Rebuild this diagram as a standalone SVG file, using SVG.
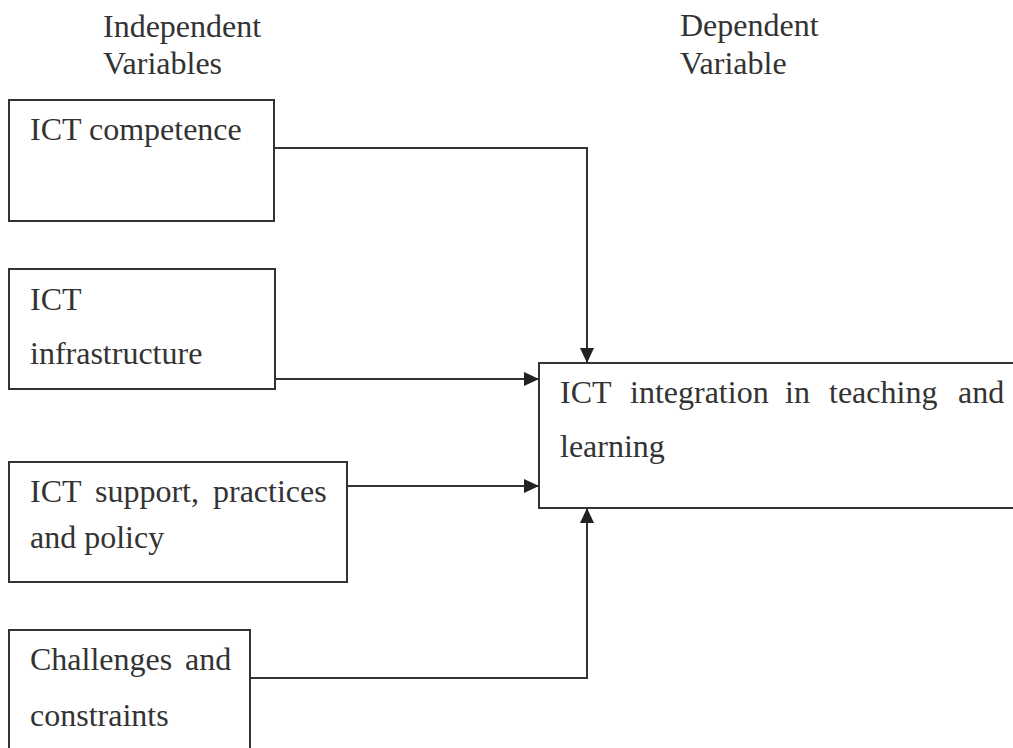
<svg xmlns="http://www.w3.org/2000/svg" width="1013" height="748" viewBox="0 0 1013 748">
<style>
.box{fill:none;stroke:#333;stroke-width:2}
.t{font-family:"Liberation Serif","Times New Roman",serif;font-size:32px;fill:#333}
.c{fill:none;stroke:#333;stroke-width:2}
</style>
<defs>
<marker id="ah" markerUnits="userSpaceOnUse" markerWidth="16" markerHeight="14" refX="15" refY="7" orient="auto">
<path d="M0,0 L15,7 L0,14 Z" fill="#222"/>
</marker>
</defs>
<rect width="1013" height="748" fill="#fff"/>
<g id="headers">
<text class="t" x="103" y="37">Independent</text>
<text class="t" x="103" y="74">Variables</text>
<text class="t" x="680" y="36">Dependent</text>
<text class="t" x="680" y="74">Variable</text>
</g>
<g id="node-competence">
<rect class="box" x="9" y="100" width="265" height="121"/>
<text class="t" x="30" y="140">ICT competence</text>
</g>
<g id="node-infrastructure">
<rect class="box" x="9" y="269" width="266" height="120"/>
<text class="t" x="30" y="310">ICT</text>
<text class="t" x="30" y="364">infrastructure</text>
</g>
<g id="node-support">
<rect class="box" x="9" y="462" width="338" height="120"/>
<text class="t" y="502"><tspan x="30">ICT</tspan><tspan x="95">support,</tspan><tspan x="213">practices</tspan></text>
<text class="t" x="30" y="548">and policy</text>
</g>
<g id="node-challenges">
<rect class="box" x="9" y="630" width="241" height="140"/>
<text class="t" y="670"><tspan x="30">Challenges</tspan><tspan x="185">and</tspan></text>
<text class="t" x="30" y="726">constraints</text>
</g>
<g id="node-integration">
<rect class="box" x="539" y="363" width="490" height="145"/>
<text class="t" y="403"><tspan x="560">ICT</tspan><tspan x="630">integration</tspan><tspan x="785">in</tspan><tspan x="829">teaching</tspan><tspan x="958">and</tspan></text>
<text class="t" x="560" y="457">learning</text>
</g>
<g id="connectors">
<path class="c" d="M274,148 H587 V363" marker-end="url(#ah)"/>
<path class="c" d="M275,379 H539" marker-end="url(#ah)"/>
<path class="c" d="M347,486 H539" marker-end="url(#ah)"/>
<path class="c" d="M250,678 H587 V508" marker-end="url(#ah)"/>
</g>
</svg>
